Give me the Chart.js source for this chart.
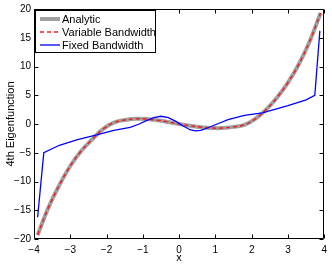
<!DOCTYPE html>
<html>
<head>
<meta charset="utf-8">
<script src="https://cdn.jsdelivr.net/npm/chart.js@4/dist/chart.umd.min.js"></script>
<style>
  html, body { margin: 0; padding: 0; background: #fff; }
  #wrap { width: 332px; height: 264px; }
</style>
</head>
<body>
<div id="wrap"><canvas id="chart" width="332" height="264"></canvas></div>
<script>
// values
var smoothX = [-3.9, -3.6, -3.3, -3.0, -2.7, -2.4, -2.1, -1.8, -1.5, -1.2, -0.9, -0.6, -0.3, 0,
               0.3, 0.6, 0.9, 1.2, 1.5, 1.8, 2.1, 2.4, 2.7, 3.0, 3.3, 3.6, 3.9];
var analyticY = [-19.3, -14.5, -10.6, -7.3, -4.7, -2.7, -0.9, 0.25, 0.7, 0.9, 0.85, 0.65, 0.35, 0,
                 -0.3, -0.55, -0.7, -0.7, -0.5, -0.15, 0.9, 2.5, 4.6, 7.2, 10.4, 14.4, 19.3];
var variableY = [-19.3, -14.5, -10.6, -7.3, -4.7, -2.7, -0.9, 0.25, 0.7, 0.9, 0.85, 0.65, 0.35, 0,
                 -0.3, -0.55, -0.7, -0.7, -0.5, -0.15, 0.9, 2.5, 4.6, 7.2, 10.4, 14.4, 19.3];
var fixedX = [-3.9, -3.73, -3.3, -2.8, -2.3, -1.8, -1.35, -1.1, -0.9, -0.7, -0.5, -0.3, -0.1,
              0.1, 0.3, 0.45, 0.6, 0.8, 1.05, 1.35, 1.8, 2.3, 3.0, 3.5, 3.74, 3.88];
var fixedY = [-16.2, -5.0, -3.7, -2.7, -1.95, -1.1, -0.6, 0.0, 0.6, 1.1, 1.35, 1.1, 0.5,
              -0.3, -1.0, -1.2, -1.1, -0.65, 0.0, 0.75, 1.5, 1.95, 3.2, 4.2, 5.0, 16.2];
var seriesNames = ["Analytic", "Variable Bandwidth", "Fixed Bandwidth"];
var xTicks = [-4, -3, -2, -1, 0, 1, 2, 3, 4];
var yTicks = [-20, -15, -10, -5, 0, 5, 10, 15, 20];

function pts(xs, ys) {
    return xs.map(function (x, i) { return { x: x, y: ys[i] }; });
}
function minus(v) {
    return String(v).replace('-', '\u2212');
}

var FONT = "'Liberation Sans', Arial, sans-serif";

//box, inward ticks and legend, matlab style
var matlabBox = {
    id: 'matlabBox',
    afterDraw: function (chart) {
        var ctx = chart.ctx;
        var a = chart.chartArea;
        var xs = chart.scales.x, ys = chart.scales.y;
        var l = Math.round(a.left) + 0.5, r = Math.round(a.right) - 0.5;
        var t = Math.round(a.top) + 0.5, b = Math.round(a.bottom) - 0.5;
        ctx.save();
        ctx.strokeStyle = '#000';
        ctx.lineWidth = 1;
        ctx.beginPath();
        ctx.moveTo(l, t); ctx.lineTo(r, t); ctx.lineTo(r, b); ctx.lineTo(l, b); ctx.closePath();
        xTicks.forEach(function (v) {
            var px = Math.round(xs.getPixelForValue(v)) + 0.5;
            ctx.moveTo(px, b); ctx.lineTo(px, b - 4);
            ctx.moveTo(px, t); ctx.lineTo(px, t + 4);
        });
        yTicks.forEach(function (v) {
            var py = Math.round(ys.getPixelForValue(v)) + 0.5;
            ctx.moveTo(l, py); ctx.lineTo(l + 4, py);
            ctx.moveTo(r, py); ctx.lineTo(r - 4, py);
        });
        ctx.stroke();

        //legend
        var lx = 35.5, ly = 10.5, lw = 120, lh = 42;
        ctx.fillStyle = '#fff';
        ctx.fillRect(lx, ly, lw, lh);
        ctx.strokeStyle = '#000';
        ctx.strokeRect(lx, ly, lw, lh);
        var rows = [19, 32, 45];
        chart.data.datasets.forEach(function (ds, i) {
            ctx.beginPath();
            ctx.strokeStyle = ds.borderColor;
            ctx.lineWidth = ds.borderWidth;
            ctx.setLineDash(ds.borderDash || []);
            ctx.moveTo(40, rows[i]);
            ctx.lineTo(60, rows[i]);
            ctx.stroke();
            ctx.setLineDash([]);
            ctx.fillStyle = '#000';
            ctx.font = '11px ' + FONT;
            ctx.textBaseline = 'middle';
            ctx.fillText(ds.label, 62, rows[i] + 0.5);
        });
        ctx.restore();
    }
};

var ctx = document.getElementById('chart').getContext('2d');
new Chart(ctx, {
    type: 'scatter',
    data: {
        datasets: [{
            label: seriesNames[0],
            data: pts(smoothX, analyticY),
            showLine: true,
            borderColor: '#a0a0a0',
            borderWidth: 4,
            pointRadius: 0,
            tension: 0.4,
            order: 3
        }, {
            label: seriesNames[1],
            data: pts(smoothX, variableY),
            showLine: true,
            borderColor: '#f02020',
            borderWidth: 1.5,
            borderDash: [4, 3],
            pointRadius: 0,
            tension: 0.4,
            order: 2
        }, {
            label: seriesNames[2],
            data: pts(fixedX, fixedY),
            showLine: true,
            borderColor: '#0000ff',
            borderWidth: 1.3,
            pointRadius: 0,
            tension: 0,
            order: 1
        }]
    },
    options: {
        responsive: false,
        animation: false,
        layout: { padding: { top: 7, right: 5, left: 0, bottom: 0 } },
        plugins: { legend: { display: false }, tooltip: { enabled: false } },
        scales: {
            x: {
                type: 'linear', min: -4, max: 4,
                afterBuildTicks: function (s) { s.ticks = xTicks.map(function (v) { return { value: v }; }); },
                afterFit: function (s) { s.height = 25; },
                grid: { display: false, drawTicks: false },
                border: { display: false },
                ticks: { padding: 5, color: '#000', font: { family: FONT, size: 10 }, callback: minus, maxRotation: 0 },
                title: { display: true, text: 'x', color: '#000', padding: { top: 0, bottom: -1 }, font: { family: FONT, size: 11 } }
            },
            y: {
                type: 'linear', min: -20, max: 20,
                afterBuildTicks: function (s) { s.ticks = yTicks.map(function (v) { return { value: v }; }); },
                afterFit: function (s) { s.width = 34; },
                grid: { display: false, drawTicks: false },
                border: { display: false },
                ticks: { padding: 3, color: '#000', font: { family: FONT, size: 10 }, callback: minus },
                title: { display: true, text: '4th Eigenfunction', color: '#000', padding: { top: 4, bottom: 0 }, font: { family: FONT, size: 11 } }
            }
        }
    },
    plugins: [matlabBox]
});
</script>
</body>
</html>
